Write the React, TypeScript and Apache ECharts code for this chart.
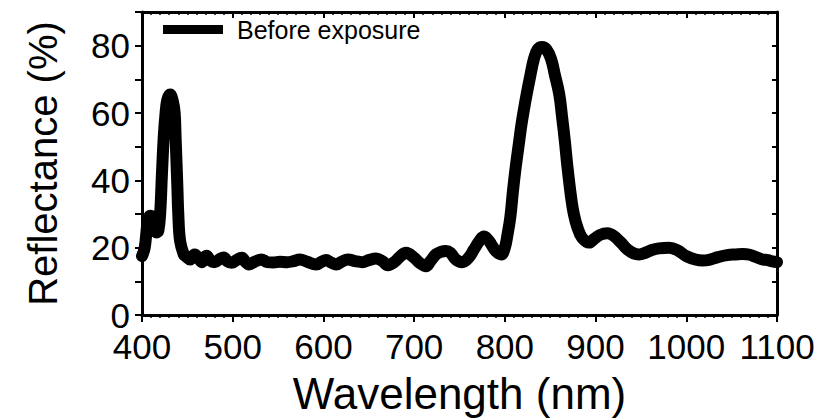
import React, { useEffect, useRef } from "react";
import * as echarts from "echarts";

const seriesName = "Before exposure";
const xTitle = "Wavelength (nm)";
const yTitle = "Reflectance (%)";

const wavelength = [
  400, 403, 406, 409, 412, 414, 416, 418, 420, 422, 424, 426, 428, 431, 434, 436, 437, 439, 440, 442, 446,
  448, 453, 458, 462, 466, 471, 476, 480, 485, 490, 494, 499, 504, 510, 514, 518, 524, 532, 538, 545, 552,
  560, 567, 574, 582, 592, 598, 603, 609, 614, 620, 627, 635, 643, 650, 658, 665, 671, 678, 685, 691,
  700, 706, 713, 718, 724, 730, 735, 740, 746, 753, 760, 766, 772, 777, 781, 785, 790, 796,
  800, 803, 806, 809, 812, 815, 818, 821, 824, 828, 832, 836, 841, 846, 851, 855, 860, 863, 866, 869, 873,
  876, 880, 885, 893, 898, 905, 913, 920, 928, 935, 942, 948, 955, 962, 970, 981, 990, 1000, 1010, 1018,
  1025, 1035, 1045, 1055, 1062, 1070, 1077, 1084, 1090, 1095, 1100,
];

const reflectance = [
  17.5, 20, 27, 29.5, 29, 25.5, 24.5, 25, 30, 42, 53, 60, 64, 65.5, 63.5, 60, 53, 38, 30, 22, 18,
  17.5, 16.5, 18, 17, 15.7, 17.6, 16, 15.7, 16.5, 17.1, 16, 15.5, 16.3, 17, 15.8, 15, 15.8, 16.5, 15.7, 15.6, 15.8,
  15.7, 16, 16.5, 15.8, 15, 15.8, 16.3, 15.5, 15, 15.8, 16.5, 16, 15.7, 16.3, 16.8, 16, 14.8, 15.7, 17.5, 18.5,
  17, 15.5, 14.5, 16, 18, 18.8, 19, 18.5, 16.5, 15.7, 17, 19.5, 22, 23.3, 22.5, 21, 19, 18,
  20, 24, 29, 37, 44, 50, 56, 61, 65.5, 71, 76, 78.8, 79.6, 78.8, 76, 71.5, 65.5, 59, 52, 44, 35,
  30, 26, 23, 21.5, 22.5, 23.8, 24.3, 23.5, 21.5, 19.5, 18.3, 18, 18.5, 19.3, 19.8, 20, 19.3, 17.5, 16.5, 16.2,
  16.4, 17.2, 17.8, 18, 18.1, 17.9, 17.2, 16.5, 16.3, 15.9, 15.7,
];

const FONT = "Liberation Sans, Arial, Helvetica, sans-serif";

export default function App() {
  const ref = useRef<HTMLDivElement>(null);
  useEffect(() => {
    if (!ref.current) return;
    const chart = echarts.init(ref.current, null, { renderer: "svg" });
    const data = wavelength.map((w, i) => [w, reflectance[i]]);
    const axisLine = { show: true, onZero: false, lineStyle: { color: "#000", width: 3 } };
    chart.setOption({
      animation: false,
      backgroundColor: "#fff",
      textStyle: { fontFamily: FONT, color: "#000" },
      grid: { left: 142, right: 48, top: 12, bottom: 94, containLabel: false },
      legend: {
        show: true,
        data: [seriesName],
        left: 163,
        top: 17,
        padding: 0,
        icon: "rect",
        itemWidth: 60,
        itemHeight: 9,
        itemStyle: { color: "#000" },
        textStyle: { fontFamily: FONT, fontSize: 25, color: "#000", padding: [0, 0, 0, 9] },
      },
      xAxis: [
        {
          type: "value",
          position: "bottom",
          min: 400,
          max: 1100,
          interval: 100,
          axisLine,
          axisTick: { show: true, inside: false, length: 7, lineStyle: { color: "#000", width: 2 } },
          minorTick: { show: true, splitNumber: 10, length: 3, lineStyle: { color: "#000", width: 1.5 } },
          splitLine: { show: false },
          minorSplitLine: { show: false },
          axisLabel: {
            show: true,
            fontFamily: FONT,
            fontSize: 35,
            color: "#000",
            margin: 14,
            formatter: (v: number) => String(v),
          },
          name: xTitle,
          nameLocation: "middle",
          nameGap: 56,
          nameTextStyle: { fontFamily: FONT, fontSize: 44, color: "#000" },
        },
        {
          type: "value",
          position: "top",
          min: 400,
          max: 1100,
          interval: 100,
          axisLine,
          axisTick: { show: true, inside: true, length: 6, lineStyle: { color: "#000", width: 2 } },
          minorTick: { show: true, splitNumber: 10, length: 3, lineStyle: { color: "#000", width: 1.5 } },
          splitLine: { show: false },
          axisLabel: { show: false },
        },
      ],
      yAxis: [
        {
          type: "value",
          position: "left",
          min: 0,
          max: 90,
          interval: 10,
          axisLine,
          axisTick: { show: true, inside: false, length: 7, lineStyle: { color: "#000", width: 2 } },
          splitLine: { show: false },
          axisLabel: {
            show: true,
            fontFamily: FONT,
            fontSize: 35,
            color: "#000",
            margin: 12,
            formatter: (v: number) => (v % 20 === 0 && v <= 80 ? String(v) : ""),
          },
          name: yTitle,
          nameLocation: "middle",
          nameGap: 79,
          nameRotate: 90,
          nameTextStyle: { fontFamily: FONT, fontSize: 40, color: "#000" },
        },
        {
          type: "value",
          position: "right",
          min: 0,
          max: 90,
          interval: 10,
          axisLine,
          axisTick: { show: true, inside: true, length: 5, lineStyle: { color: "#000", width: 2 } },
          splitLine: { show: false },
          axisLabel: { show: false },
        },
      ],
      series: [
        {
          name: seriesName,
          type: "line",
          xAxisIndex: 0,
          yAxisIndex: 0,
          data,
          smooth: 0.4,
          showSymbol: false,
          symbol: "none",
          color: "#000",
          lineStyle: { color: "#000", width: 12, join: "round", cap: "round" },
        },
      ],
    });
    return () => chart.dispose();
  }, []);
  return (
    <div
      ref={ref}
      style={{ position: "absolute", left: 0, top: 0, width: 825, height: 420 }}
    />
  );
}
